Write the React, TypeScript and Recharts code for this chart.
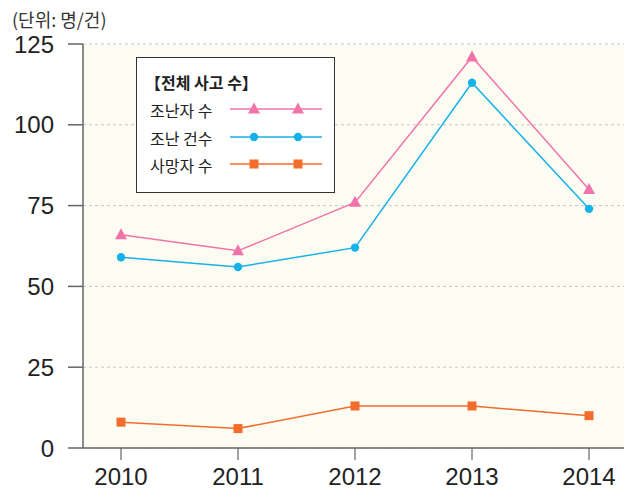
import { CartesianGrid, Line, LineChart, XAxis, YAxis } from "recharts";

const years = ["2010", "2011", "2012", "2013", "2014"];
const survivors = [66, 61, 76, 121, 80];
const incidents = [59, 56, 62, 113, 74];
const deaths = [8, 6, 13, 13, 10];
const yTicks = [0, 25, 50, 75, 100, 125];

const PINK = "#f074a9";
const BLUE = "#17b1e9";
const ORANGE = "#f26c2b";
const FONT = "'Liberation Sans', Arial, 'Noto Sans CJK KR', sans-serif";
const KFONT = "'Noto Sans CJK KR', 'Liberation Sans', sans-serif";

const data = years.map((year, i) => ({
  year,
  survivors: survivors[i],
  incidents: incidents[i],
  deaths: deaths[i]
}));

const series = [
  { key: "survivors", name: "조난자 수", color: PINK, shape: "triangle" },
  { key: "incidents", name: "조난 건수", color: BLUE, shape: "circle" },
  { key: "deaths", name: "사망자 수", color: ORANGE, shape: "square" }
];

function Marker({ cx, cy, shape, color }: any) {
  if (cx == null || cy == null) return null;
  if (shape === "triangle") {
    return <polygon points={`${cx},${cy - 6.5} ${cx - 6},${cy + 4.5} ${cx + 6},${cy + 4.5}`} fill={color} />;
  }
  if (shape === "square") {
    return <rect x={cx - 4.5} y={cy - 4.5} width={9} height={9} fill={color} />;
  }
  return <circle cx={cx} cy={cy} r={4.2} fill={color} />;
}

// legend box drawn over the plot, like the printed one
function LegendBox() {
  return (
    <div
      style={{
        position: "absolute",
        left: 136,
        top: 57,
        width: 199,
        height: 136,
        boxSizing: "border-box",
        border: "1.5px solid #333",
        background: "#fff",
        fontFamily: KFONT,
        color: "#222",
        zIndex: 2
      }}
    >
      <div style={{ position: "absolute", left: 8, top: 13, fontSize: 16, fontWeight: 700, lineHeight: "22px" }}>
        【전체 사고 수】
      </div>
      {series.map((s, i) => (
        <div key={s.key} style={{ position: "absolute", left: 13, top: 40 + i * 27.5, height: 22, width: 185 }}>
          <span style={{ fontSize: 16, lineHeight: "22px" }}>{s.name}</span>
          <svg width={96} height={22} style={{ position: "absolute", left: 80, top: 0 }}>
            <line x1={0} y1={11} x2={92} y2={11} stroke={s.color} strokeWidth={1.5} />
            <Marker cx={24} cy={11} shape={s.shape} color={s.color} />
            <Marker cx={68} cy={11} shape={s.shape} color={s.color} />
          </svg>
        </div>
      ))}
    </div>
  );
}

export default function App() {
  return (
    <div style={{ position: "absolute", left: 0, top: 0, width: 624, height: 489, background: "#fff" }}>
      <div style={{ position: "absolute", left: 12, top: 6, fontSize: 18, color: "#333", fontFamily: KFONT, zIndex: 2 }}>
        (단위: 명/건)
      </div>
      <LegendBox />
      <LineChart width={624} height={489} data={data} margin={{ top: 44, right: 0, bottom: 0, left: 0 }}>
        <CartesianGrid vertical={false} fill="#fdfcf2" stroke="#c8c8c8" strokeDasharray="3 3" />
        <XAxis
          dataKey="year"
          height={41}
          padding={{ left: 38, right: 35 }}
          axisLine={{ stroke: "#666", strokeWidth: 1.5 }}
          tickLine={{ stroke: "#666", strokeWidth: 1.2 }}
          tickSize={12}
          tickMargin={8}
          tick={{ fill: "#222", fontSize: 24, fontFamily: FONT }}
        />
        <YAxis
          width={83}
          domain={[0, 125]}
          ticks={yTicks}
          axisLine={{ stroke: "#666", strokeWidth: 1.5 }}
          tickLine={{ stroke: "#666", strokeWidth: 1.5 }}
          tickSize={15}
          tickMargin={14}
          tick={{ fill: "#222", fontSize: 24, fontFamily: FONT }}
        />
        {series.map((s) => (
          <Line
            key={s.key}
            type="linear"
            dataKey={s.key}
            name={s.name}
            stroke={s.color}
            strokeWidth={1.5}
            isAnimationActive={false}
            dot={(p: any) => <Marker key={`${s.key}-${p.index}`} cx={p.cx} cy={p.cy} shape={s.shape} color={s.color} />}
            activeDot={false}
          />
        ))}
      </LineChart>
    </div>
  );
}
